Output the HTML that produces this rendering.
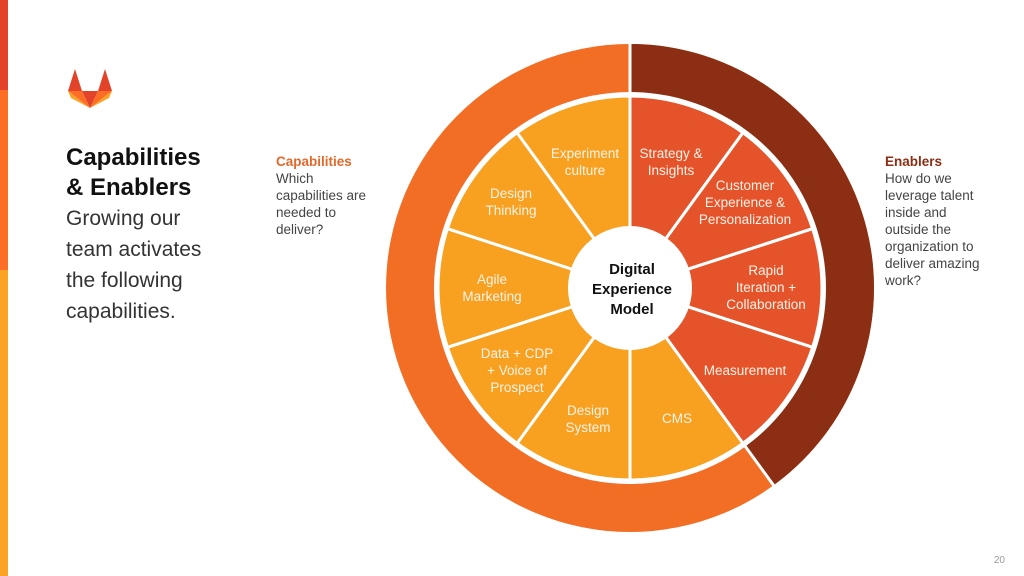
<!DOCTYPE html>
<html><head><meta charset="utf-8"><style>
html,body{margin:0;padding:0;background:#fff}
body{width:1024px;height:576px;position:relative;overflow:hidden;font-family:"Liberation Sans",sans-serif}
.t{position:absolute}
</style></head><body>
<div class="t" style="left:0;top:0;width:8px;height:90px;background:#e24329"></div>
<div class="t" style="left:0;top:90px;width:8px;height:180px;background:#fc6d26"></div>
<div class="t" style="left:0;top:270px;width:8px;height:306px;background:#fca326"></div>
<svg class="t" style="left:68px;top:68px" width="44" height="41" viewBox="0 0 44 41">
<polygon points="0,23 7,1 14,23" fill="#e24329"/><polygon points="30,23 37,1 44,23" fill="#e24329"/>
<polygon points="0,23 14,23 22,40" fill="#fc6d26"/><polygon points="44,23 30,23 22,40" fill="#fc6d26"/>
<polygon points="0,23 22,40 3,30" fill="#fca326"/><polygon points="44,23 22,40 41,30" fill="#fca326"/>
<polygon points="14,23 30,23 22,40" fill="#e24329"/>
</svg>
<div class="t" style="left:66px;top:143px;font-size:24px;font-weight:bold;line-height:30px;color:#111">Capabilities<br>&amp; Enablers</div>
<div class="t" style="left:66px;top:203px;font-size:21px;line-height:31px;color:#333">Growing our<br>team activates<br>the following<br>capabilities.</div>
<div class="t" style="left:276px;top:153px;font-size:13.5px;line-height:17px;color:#444"><b style="color:#e2692a">Capabilities</b><br>Which<br>capabilities are<br>needed to<br>deliver?</div>
<div class="t" style="left:885px;top:153px;font-size:13.5px;line-height:17px;color:#444"><b style="color:#8b2e14">Enablers</b><br>How do we<br>leverage talent<br>inside and<br>outside the<br>organization to<br>deliver amazing<br>work?</div>
<svg class="t" style="left:0;top:0" width="1024" height="576" font-family="Liberation Sans, sans-serif">
<g transform="translate(630,288)">
<circle r="244" fill="#f26e25"/>
<path d="M0,-244 A244,244 0 0 1 143.4,197.4 L0,0Z" fill="#8b2e14"/>
<line x1="0" y1="0" x2="0" y2="-250" stroke="#fff" stroke-width="3"/>
<line x1="0" y1="0" x2="147" y2="202" stroke="#fff" stroke-width="3"/>
<circle r="196" fill="#fff"/>
<g stroke="#fff" stroke-width="3">
<path d="M0,0 L0,-192 A192,192 0 0 1 112.9,-155.3Z" fill="#e5532a"/>
<path d="M0,0 L112.9,-155.3 A192,192 0 0 1 182.6,-59.3Z" fill="#e5532a"/>
<path d="M0,0 L182.6,-59.3 A192,192 0 0 1 182.6,59.3Z" fill="#e5532a"/>
<path d="M0,0 L182.6,59.3 A192,192 0 0 1 112.9,155.3Z" fill="#e5532a"/>
<path d="M0,0 L112.9,155.3 A192,192 0 0 1 0,192Z" fill="#f8a01f"/>
<path d="M0,0 L0,192 A192,192 0 0 1 -112.9,155.3Z" fill="#f8a01f"/>
<path d="M0,0 L-112.9,155.3 A192,192 0 0 1 -182.6,59.3Z" fill="#f8a01f"/>
<path d="M0,0 L-182.6,59.3 A192,192 0 0 1 -182.6,-59.3Z" fill="#f8a01f"/>
<path d="M0,0 L-182.6,-59.3 A192,192 0 0 1 -112.9,-155.3Z" fill="#f8a01f"/>
<path d="M0,0 L-112.9,-155.3 A192,192 0 0 1 0,-192Z" fill="#f8a01f"/>
</g>
<circle r="62" fill="#fff"/>
</g>
<g fill="#fff3e8" font-size="13.5" text-anchor="middle">
<text x="585" y="158">Experiment</text><text x="585" y="175">culture</text>
<text x="671" y="158">Strategy &amp;</text><text x="671" y="175">Insights</text>
<text x="745" y="190">Customer</text><text x="745" y="207">Experience &amp;</text><text x="745" y="224">Personalization</text>
<text x="766" y="275">Rapid</text><text x="766" y="292">Iteration +</text><text x="766" y="309">Collaboration</text>
<text x="745" y="375">Measurement</text>
<text x="677" y="423">CMS</text>
<text x="588" y="415">Design</text><text x="588" y="432">System</text>
<text x="517" y="358">Data + CDP</text><text x="517" y="375">+ Voice of</text><text x="517" y="392">Prospect</text>
<text x="492" y="284">Agile</text><text x="492" y="301">Marketing</text>
<text x="511" y="198">Design</text><text x="511" y="215">Thinking</text>
</g>
<g fill="#111" font-size="15" font-weight="bold" text-anchor="middle">
<text x="632" y="274">Digital</text><text x="632" y="294">Experience</text><text x="632" y="314">Model</text>
</g>
<text x="1005" y="563" font-size="10" fill="#999" text-anchor="end">20</text>
</svg>
</body></html>
